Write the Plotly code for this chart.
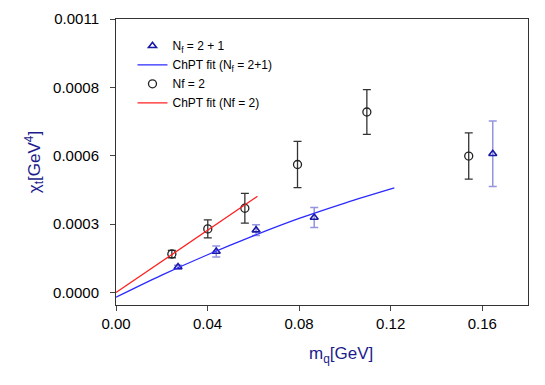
import plotly.graph_objs as go

# quark mass [GeV] and topological susceptibility [GeV^4]
mq_nf21 = [0.0271, 0.0438, 0.0612, 0.0866, 0.1646]
chi_nf21 = [0.000103, 0.000165, 0.000251, 0.000302, 0.000558]
err_nf21 = [0.000007, 0.000022, 0.000022, 0.000040, 0.000132]

mq_nf2 = [0.0244, 0.0401, 0.0563, 0.0793, 0.1096, 0.1541]
chi_nf2 = [0.000155, 0.000256, 0.000339, 0.000515, 0.000726, 0.000549]
err_nf2 = [0.000015, 0.000036, 0.000060, 0.000093, 0.000090, 0.000093]

# ChPT fit curves
fit21_m = [0.0, 0.02, 0.04, 0.06, 0.08, 0.10, 0.1216]
fit21_chi = [-0.000019, 0.000070, 0.000152, 0.000228, 0.000298, 0.000360, 0.000421]
fit2_m = [0.0, 0.03, 0.0618]
fit2_chi = [0.0, 0.000188, 0.000387]

ytick_vals = [0.0, 0.000275, 0.00055, 0.000825, 0.0011]
ytick_text = ['0.0000', '0.0003', '0.0006', '0.0008', '0.0011']
xtick_vals = [0.0, 0.04, 0.08, 0.12, 0.16]

navy = '#1c1c8c'
font = 'Liberation Sans, Arial, sans-serif'

data = [
    go.Scatter(x=mq_nf21, y=chi_nf21, mode='markers', name='N<sub>f</sub> = 2 + 1',
               marker=dict(symbol='triangle-up-open', size=7, color='#1a1aa6', line=dict(width=1.6)),
               error_y=dict(type='data', array=err_nf21, color='rgba(60,60,200,0.55)', thickness=1.5, width=4)),
    go.Scatter(x=fit21_m, y=fit21_chi, mode='lines', name='ChPT fit (N<sub>f</sub> = 2+1)',
               line=dict(color='#2a2aff', width=1.3, shape='spline')),
    go.Scatter(x=mq_nf2, y=chi_nf2, mode='markers', name='Nf = 2',
               marker=dict(symbol='circle-open', size=8, color='#222222', line=dict(width=1.3)),
               error_y=dict(type='data', array=err_nf2, color='#333333', thickness=1.3, width=4)),
    go.Scatter(x=fit2_m, y=fit2_chi, mode='lines', name='ChPT fit (Nf = 2)',
               line=dict(color='#ff2020', width=1.3)),
]

# page body has an 8px margin, so the figure is 8px smaller and margins shifted
layout = go.Layout(
    width=537, height=377,
    margin=dict(l=108, r=17, t=11, b=80),
    paper_bgcolor='white', plot_bgcolor='white',
    font=dict(family=font, size=15, color='black'),
    showlegend=True,
    legend=dict(x=0.04, y=0.957, xanchor='left', yanchor='top', bgcolor='rgba(0,0,0,0)',
                font=dict(size=12), tracegroupgap=0),
    xaxis=dict(range=[0, 0.18], tickvals=xtick_vals, tickformat='.2f', ticks='outside', ticklen=5,
               showline=True, linecolor='#333333', linewidth=1, mirror=True,
               showgrid=False, zeroline=False, automargin=False),
    yaxis=dict(range=[-0.00005, 0.0011], tickvals=ytick_vals, ticktext=ytick_text,
               ticks='outside', ticklen=5, ticklabelstandoff=8,
               showline=True, linecolor='#333333', linewidth=1, mirror=True,
               showgrid=False, zeroline=False, automargin=False,
               title=dict(text='χ<sub>t</sub>[GeV<sup>4</sup>]', font=dict(size=17, color=navy), standoff=8)),
    annotations=[dict(text='m<sub>q</sub>[GeV]', xref='paper', yref='paper', x=0.546, y=-0.13,
                      xanchor='center', yanchor='top', showarrow=False,
                      font=dict(size=17, color=navy))],
)

fig = go.Figure(data=data, layout=layout)
fig.write_html("out.html")
